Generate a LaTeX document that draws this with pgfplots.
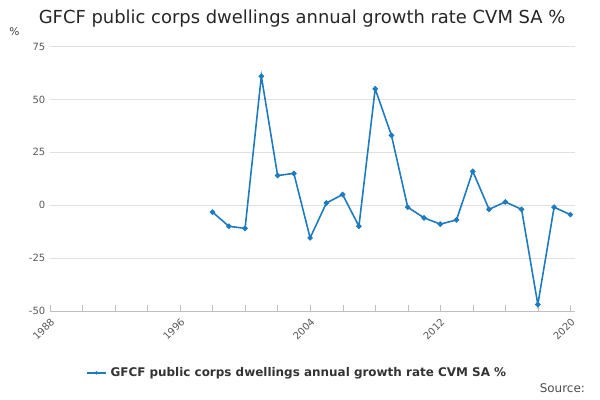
\documentclass[border=0pt]{standalone}
\usepackage{pgfplots}
\pgfplotsset{compat=1.18}
\usepackage{fontspec}
\setmainfont{DejaVu Sans}
\definecolor{ln}{HTML}{1F7BC0}
\begin{document}
\begin{tikzpicture}
\path[use as bounding box] (0,0) rectangle (15.875cm,10.583cm);
\node[anchor=west,font=\fontsize{13.5}{15}\selectfont,text=black!85,inner sep=0pt] at (1.02cm,10.1cm) {GFCF public corps dwellings annual growth rate CVM SA \%};
\node[font=\fontsize{8}{9}\selectfont,text=black!75] at (0.38cm,9.75cm) {\%};
\begin{axis}[at={(1.32cm,2.36cm)},anchor=south west,width=13.9cm,height=6.99cm,
 xmin=1988,xmax=2020.3,ymin=-50,ymax=75,
 ytick={-50,-25,0,25,50,75},
 xtick={1988,1996,2004,2012,2020},
 minor xtick={1990,1992,1994,1998,2000,2002,2006,2008,2010,2014,2016,2018},
 x tick label style={rotate=45,anchor=north east,font=\fontsize{7.5}{9}\selectfont,text=black!65},
 y tick label style={font=\fontsize{7.5}{9}\selectfont,text=black!65},
 /pgf/number format/assume math mode=true,
 /pgf/number format/1000 sep={},
 ymajorgrids, grid style={black!12},
 axis x line*=bottom, axis y line*=left,
 y axis line style={draw=none},
 x axis line style={black!25},
 tick style={black!25}, major tick length=4pt, minor tick length=4pt,
 xtick pos=bottom, ytick style={draw=none},
 scale only axis]
\addplot[ln,line width=1.2pt,mark=*,mark size=1.4pt] coordinates {
(1998,-3.3)(1999,-10)(2000,-11)(2001,61)(2002,14)(2003,15)(2004,-15.5)(2005,1)(2006,5)(2007,-10)(2008,55)(2009,33)(2010,-1)(2011,-6)(2012,-9)(2013,-7)(2014,16)(2015,-2)(2016,1.5)(2017,-2)(2018,-47)(2019,-1)(2020,-4.5)};
\end{axis}
\draw[ln,line width=1.2pt] (2.3cm,0.72cm) -- (2.8cm,0.72cm);
\fill[ln] (2.55cm,0.72cm) circle (1.4pt);
\node[anchor=west,font=\bfseries\fontsize{9}{10}\selectfont,text=black!80] at (2.8cm,0.72cm) {GFCF public corps dwellings annual growth rate CVM SA \%};
\node[anchor=east,font=\fontsize{9}{10}\selectfont,text=black!70] at (15.6cm,0.3cm) {Source:};
\end{tikzpicture}
\end{document}
